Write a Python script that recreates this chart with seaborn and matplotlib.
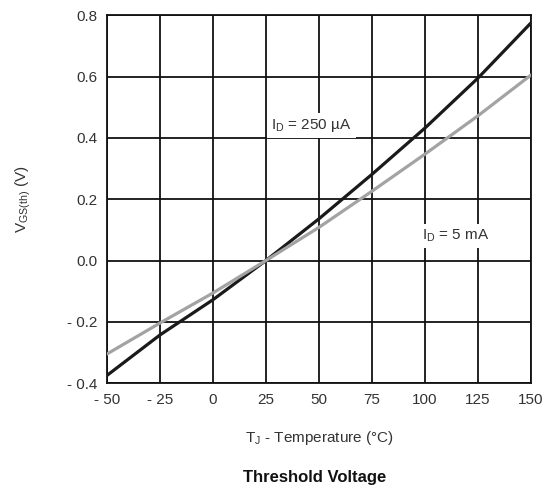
import matplotlib
matplotlib.use("Agg")
import matplotlib.pyplot as plt
import seaborn as sns
import pandas as pd
from matplotlib.ticker import FixedLocator, FixedFormatter

# Junction temperature (°C)
temperature = [-50, -25, 0, 25, 50, 75, 100, 125, 150]
# Gate threshold voltage shift (V) for the two drain currents
vth_250ua = [-0.375, -0.243, -0.128, 0.0, 0.136, 0.281, 0.432, 0.595, 0.775]
vth_5ma = [-0.305, -0.204, -0.106, 0.0, 0.108, 0.226, 0.347, 0.472, 0.605]
series_names = ["250 µA", "5 mA"]

x_ticks = [-50, -25, 0, 25, 50, 75, 100, 125, 150]
x_tick_labels = ["- 50", "- 25", "0", "25", "50", "75", "100", "125", "150"]
y_ticks = [-0.4, -0.2, 0.0, 0.2, 0.4, 0.6, 0.8]
y_tick_labels = ["- 0.4", "- 0.2", "0.0", "0.2", "0.4", "0.6", "0.8"]

df = pd.DataFrame({
    "T": temperature * 2,
    "V": vth_250ua + vth_5ma,
    "Id": [series_names[0]] * len(temperature) + [series_names[1]] * len(temperature),
})

sns.set_style("white")
plt.rcParams["font.family"] = ["Liberation Sans", "DejaVu Sans"]
plt.rcParams["mathtext.default"] = "regular"

fig = plt.figure(figsize=(5.48, 4.90), dpi=100)
ax = fig.add_axes([0.195, 0.218, 0.774, 0.751])

ax.set_xlim(-50, 150)
ax.set_ylim(-0.4, 0.8)
ax.xaxis.set_major_locator(FixedLocator(x_ticks))
ax.xaxis.set_major_formatter(FixedFormatter(x_tick_labels))
ax.yaxis.set_major_locator(FixedLocator(y_ticks))
ax.yaxis.set_major_formatter(FixedFormatter(y_tick_labels))
ax.grid(True, color="#111111", linewidth=1.3)
ax.set_axisbelow(True)
for sp in ax.spines.values():
    sp.set_color("#111111")
    sp.set_linewidth(1.3)
ax.tick_params(length=0, labelsize=11, labelcolor="#333333", pad=7)

sns.lineplot(data=df, x="T", y="V", hue="Id", palette=["#1a1a1a", "#a3a3a3"],
             linewidth=2.3, legend=False, ax=ax, zorder=3)

box = dict(facecolor="white", edgecolor="none", pad=3)
ax.text(27.5, 0.44, "I$_D$ = 250 µA", fontsize=11, color="#333333",
        va="center", ha="left", bbox=box, zorder=4)
ax.text(98.5, 0.08, "I$_D$ = 5 mA", fontsize=11, color="#333333",
        va="center", ha="left", bbox=box, zorder=4)

ax.set_xlabel("T$_J$ - Temperature (°C)", fontsize=11, color="#333333", labelpad=16)
ax.set_ylabel("V$_{GS(th)}$ (V)", fontsize=11, color="#333333", labelpad=24)
fig.text(0.575, 0.025, "Threshold Voltage", fontsize=12, fontweight="bold",
         ha="center", va="center", color="#111111")

fig.savefig("out.png", dpi=100)
